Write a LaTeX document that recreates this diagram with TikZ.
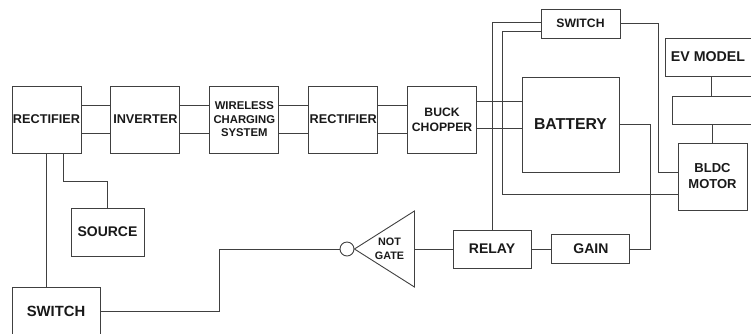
\documentclass[tikz,border=0pt]{standalone}
\usepackage{fontspec}
\setmainfont{Liberation Sans}
\usepackage{xcolor}
\usetikzlibrary{positioning}

\begin{document}
\begin{tikzpicture}[
    x=1pt, y=-1pt,
    line width=0.9pt,
    draw=black!75,
    box/.style={
        draw=black!75,
        align=center,
        inner sep=0pt,
        text=black!90,
        minimum width=69pt,
        minimum height=67pt,
        font=\bfseries\fontsize{12.7}{15}\selectfont
    },
    wire/.style={
        draw=black!75,
        line width=0.9pt
    }
]

\useasboundingbox (0,0) rectangle (751,333);

% top row
\node[box] (rectA) at (46.5,119.5) {RECTIFIER};

\node[box, right=29pt of rectA] (inverter) {INVERTER};

\node[box, right=29pt of inverter, font=\bfseries\fontsize{11.3}{13.6}\selectfont] (wireless) {
    WIRELESS\\
    CHARGING\\
    SYSTEM
};

\node[box, right=29pt of wireless] (rectB) {RECTIFIER};

\node[box, right=29pt of rectB, font=\bfseries\fontsize{12.2}{15}\selectfont] (buck) {
    BUCK\\
    CHOPPER
};

\node[box, minimum width=97pt, minimum height=95pt,
      font=\bfseries\fontsize{15.8}{18}\selectfont] (battery) at (570.5,124.5) {BATTERY};

\node[box, minimum width=79pt, minimum height=29pt,
      font=\bfseries\fontsize{12.2}{14}\selectfont] (switchtop) at (580.5,23.5) {SWITCH};

% right column
\node[box, minimum width=86pt, minimum height=38pt,
      font=\bfseries\fontsize{14.2}{16}\selectfont] (evmodel) at (708,57) {EV MODEL};

\node[box, minimum width=79pt, minimum height=28pt] (blank) at (711.5,110) {};

\node[box, font=\bfseries\fontsize{13}{16}\selectfont] (bldc) at (712.5,176.5) {
    BLDC\\
    MOTOR
};

% bottom part
\node[box, minimum width=73pt, minimum height=48pt,
      font=\bfseries\fontsize{14}{16}\selectfont] (source) at (107.5,232) {SOURCE};

\node[box, minimum width=88pt, minimum height=49pt,
      font=\bfseries\fontsize{14.8}{17}\selectfont] (switchlow) at (56,311.5) {SWITCH};

\node[box, minimum width=78pt, minimum height=38pt,
      font=\bfseries\fontsize{14}{16}\selectfont] (relay) at (492,249) {RELAY};

\node[box, right=20pt of relay, minimum width=78pt, minimum height=29pt,
      font=\bfseries\fontsize{14}{16}\selectfont] (gain) {GAIN};

% not gate
\node[draw=black!75, circle, minimum size=14pt, inner sep=0pt] (bubble) at (347,249) {};
\coordinate (notout) at ([xshift=60pt]bubble.east);
\draw[wire] (bubble.east) -- ++(60,-38) -- ++(0,76) -- cycle;
\node[align=center, text=black!90, font=\bfseries\fontsize{10.8}{14}\selectfont]
    (notgate) at ([xshift=35pt]bubble.east) {NOT\\GATE};

% double lines along the top row
\foreach \a/\b in {rectA/inverter, inverter/wireless, wireless/rectB, rectB/buck} {
    \draw[wire] ([yshift=14pt]\a.east) -- ([yshift=14pt]\b.west);
    \draw[wire] ([yshift=-14pt]\a.east) -- ([yshift=-14pt]\b.west);
}

\draw[wire] ([yshift=18pt]buck.east) -- ([yshift=18pt]buck.east -| battery.west);

\draw[wire] ([yshift=-8.5pt]buck.east) -- ([yshift=-8.5pt]buck.east -| battery.west);

\draw[wire] (rectA.south) -- (rectA.south |- switchlow.north);

\draw[wire] ([xshift=16.5pt]rectA.south) |- ([yshift=26pt]source.north) -- (source.north);

\draw[wire] (switchlow.east) -- ++(119,0) |- (bubble.west);

\draw[wire] (notout) -- (relay.west);

\draw[wire] (relay.east) -- (gain.west);

\draw[wire] (gain.east) -- ++(20,0) |- (battery.east);

\draw[wire] (relay.north) |- ([yshift=1.5pt]switchtop.west);

\draw[wire] ([yshift=-7.5pt]switchtop.west) -- ++(-38,0) |- ([yshift=-17.5pt]bldc.west);

\draw[wire] (switchtop.east) -- ++(38,0) |- ([yshift=4.5pt]bldc.west);

\draw[wire] (blank.north) -- (blank.north |- evmodel.south);

\draw[wire] (bldc.north) -- (bldc.north |- blank.south);

\end{tikzpicture}
\end{document}
